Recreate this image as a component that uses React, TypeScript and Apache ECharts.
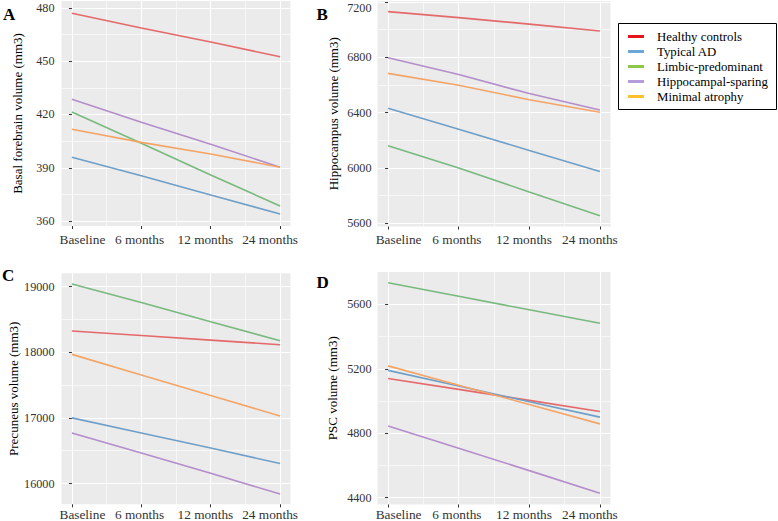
import React, { useEffect, useRef } from 'react';
import * as echarts from 'echarts';

const timepoints = ['Baseline', '6 months', '12 months', '24 months'];
const groups = ['Healthy controls', 'Typical AD', 'Limbic-predominant', 'Hippocampal-sparing', 'Minimal atrophy'];
const lineColors = ['#E5696B', '#6E9FC8', '#78B97E', '#B48DCB', '#F4A465'];
const legendColors = ['#E8141C', '#6AA6DA', '#8CC84B', '#B79CDB', '#FBC12C'];

// Panel A: Basal forebrain volume (mm3)
const basalHC = [477, 468.7, 460.8, 452.5];
const basalTAD = [395.9, 385.5, 374.6, 364];
const basalLP = [421.4, 403.8, 385.9, 368.5];
const basalHS = [428.6, 415.6, 403.2, 390.3];
const basalMA = [411.7, 404.3, 397.7, 390.3];

// Panel B: Hippocampus volume (mm3)
const hippoHC = [7130, 7087, 7040, 6990];
const hippoTAD = [6431, 6280, 6127, 5975];
const hippoLP = [6161, 6000, 5826, 5655];
const hippoHS = [6797, 6675, 6538, 6419];
const hippoMA = [6684, 6598, 6493, 6403];

// Panel C: Precuneus volume (mm3)
const precHC = [18325, 18255, 18185, 18115];
const precTAD = [17000, 16770, 16540, 16305];
const precLP = [19040, 18760, 18465, 18175];
const precHS = [16770, 16465, 16155, 15840];
const precMA = [17968, 17655, 17340, 17030];

// Panel D: PSC volume (mm3)
const pscHC = [5140, 5072, 5004, 4935];
const pscTAD = [5190, 5093, 4995, 4900];
const pscLP = [5734, 5650, 5566, 5482];
const pscHS = [4845, 4707, 4568, 4428];
const pscMA = [5218, 5098, 4978, 4858];

// Tick values
const xMajor = [0, 1, 2, 3];
const xMinor = [0.5, 1.5, 2.5];
const basalTicks = [360, 390, 420, 450, 480];
const basalMinor = [375, 405, 435, 465];
const hippoTicks = [5600, 6000, 6400, 6800, 7200];
const hippoMinor = [5800, 6200, 6600, 7000];
const precTicks = [16000, 17000, 18000, 19000];
const precMinor = [16500, 17500, 18500];
const pscTicks = [4400, 4800, 5200, 5600];
const pscMinor = [4600, 5000, 5400];

const FONT = '"Liberation Serif", "Times New Roman", serif';
const XFS = 13.3;
const YFS = 12.2;

const panels = [
  {
    letter: 'A', letterX: 3, letterY: 14,
    title: 'Basal forebrain volume (mm3)',
    grid: { left: 61.5, top: 1, width: 229, height: 225 },
    yMin: 357.2, yMax: 483.9, ticks: basalTicks, minor: basalMinor,
    nameGap: 38, yMargin: 7, xMargin: 6.5,
    series: [basalHC, basalTAD, basalLP, basalHS, basalMA],
  },
  {
    letter: 'B', letterX: 316.5, letterY: 14,
    title: 'Hippocampus volume (mm3)',
    grid: { left: 377.5, top: 1, width: 233, height: 225.5 },
    yMin: 5576.9, yMax: 7207, ticks: hippoTicks, minor: hippoMinor,
    nameGap: 38, yMargin: 6, xMargin: 6.5,
    series: [hippoHC, hippoTAD, hippoLP, hippoHS, hippoMA],
  },
  {
    letter: 'C', letterX: 2, letterY: 275,
    title: 'Precuneus volume (mm3)',
    grid: { left: 61.5, top: 273.3, width: 229, height: 231 },
    yMin: 15683, yMax: 19204, ticks: precTicks, minor: precMinor,
    nameGap: 41.5, yMargin: 7, xMargin: 3.5,
    series: [precHC, precTAD, precLP, precHS, precMA],
  },
  {
    letter: 'D', letterX: 316.5, letterY: 282.5,
    title: 'PSC volume (mm3)',
    grid: { left: 377.5, top: 272, width: 233, height: 232.5 },
    yMin: 4357.8, yMax: 5800.4, ticks: pscTicks, minor: pscMinor,
    nameGap: 39, yMargin: 6, xMargin: 3.5,
    series: [pscHC, pscTAD, pscLP, pscHS, pscMA],
  },
];

const xRich = {
  c0: { padding: [0, 0, 0, 21], fontSize: XFS, fontFamily: FONT, color: '#333333' },
  c1: { padding: [0, 3.6, 0, 0], fontSize: XFS, fontFamily: FONT, color: '#333333' },
  c2: { padding: [0, 10.6, 0, 0], fontSize: XFS, fontFamily: FONT, color: '#333333' },
  c3: { padding: [0, 20, 0, 0], fontSize: XFS, fontFamily: FONT, color: '#333333' },
};

function buildOption() {
  const grids: any[] = [];
  const xAxes: any[] = [];
  const yAxes: any[] = [];
  const series: any[] = [];
  const graphics: any[] = [];

  panels.forEach((p, g) => {
    grids.push({
      ...p.grid,
      show: true,
      backgroundColor: '#EBEBEB',
      borderWidth: 0,
      containLabel: false,
      outerBoundsMode: 'none',
    });
    // major x
    xAxes.push({
      type: 'value', gridIndex: g, min: -0.15, max: 3.15,
      axisLine: { show: false },
      axisTick: { show: true, customValues: xMajor, length: 3, lineStyle: { color: '#333333', width: 1 } },
      axisLabel: {
        customValues: xMajor,
        formatter: (v: number) => {
          const i = Math.round(v);
          return timepoints[i] != null ? `{c${i}|${timepoints[i]}}` : '';
        },
        rich: xRich,
        margin: p.xMargin, color: '#333333', fontSize: XFS, fontFamily: FONT,
      },
      splitLine: { show: true, lineStyle: { color: '#FFFFFF', width: 1.1 } },
    });
    // minor x
    xAxes.push({
      type: 'value', gridIndex: g, min: -0.15, max: 3.15,
      axisLine: { show: false },
      axisTick: { show: false, customValues: xMinor },
      axisLabel: { show: false, customValues: xMinor },
      splitLine: { show: true, lineStyle: { color: '#FFFFFF', width: 0.6 } },
    });
    // major y
    yAxes.push({
      type: 'value', gridIndex: g, min: p.yMin, max: p.yMax,
      name: p.title, nameLocation: 'middle', nameGap: p.nameGap,
      nameTextStyle: { fontSize: 13, color: '#000000', fontFamily: FONT },
      axisLine: { show: false },
      axisTick: { show: true, customValues: p.ticks, length: 3, lineStyle: { color: '#333333', width: 1 } },
      axisLabel: {
        customValues: p.ticks,
        formatter: (v: number) => (g === 1 && v === 7200 ? '{top|7200}' : String(v)),
        rich: { top: { padding: [12, 0, 0, 0], fontSize: YFS, fontFamily: FONT, color: '#333333' } },
        margin: p.yMargin, color: '#333333', fontSize: YFS, fontFamily: FONT,
      },
      splitLine: { show: true, lineStyle: { color: '#FFFFFF', width: 1.1 } },
    });
    // minor y
    yAxes.push({
      type: 'value', gridIndex: g, min: p.yMin, max: p.yMax,
      axisLine: { show: false },
      axisTick: { show: false, customValues: p.minor },
      axisLabel: { show: false, customValues: p.minor },
      splitLine: { show: true, lineStyle: { color: '#FFFFFF', width: 0.6 } },
    });

    p.series.forEach((vals, k) => {
      series.push({
        type: 'line',
        name: groups[k],
        xAxisIndex: 2 * g,
        yAxisIndex: 2 * g,
        data: vals.map((v, i) => [i, v]),
        showSymbol: false,
        symbol: 'none',
        lineStyle: { color: lineColors[k], width: 1.6 },
        itemStyle: { color: lineColors[k] },
        z: 3,
      });
    });

    graphics.push({
      type: 'text',
      x: p.letterX,
      y: p.letterY,
      style: {
        text: p.letter,
        font: `bold 17px ${FONT}`,
        fill: '#000000',
        verticalAlign: 'middle',
        align: 'left',
      },
    });
  });

  graphics.push({
    type: 'rect',
    shape: { x: 618.5, y: 23.5, width: 158, height: 86 },
    style: { fill: 'none', stroke: '#000000', lineWidth: 1 },
    z: 10,
  });

  return {
    animation: false,
    backgroundColor: '#FFFFFF',
    textStyle: { fontFamily: FONT },
    grid: grids,
    xAxis: xAxes,
    yAxis: yAxes,
    series,
    legend: {
      orient: 'vertical',
      left: 628,
      top: 29,
      itemGap: 0,
      itemWidth: 16,
      itemHeight: 3,
      icon: 'rect',
      selectedMode: false,
      padding: 0,
      formatter: '{t|{name}}',
      textStyle: {
        fontFamily: FONT, fontSize: 12.8, color: '#000000', lineHeight: 15,
        rich: { t: { fontFamily: FONT, fontSize: 12.8, color: '#000000', lineHeight: 15, padding: [0, 0, 0, 8] } },
      },
      data: groups.map((n, k) => ({
        name: n,
        icon: 'rect',
        itemStyle: { color: legendColors[k] },
        lineStyle: { color: legendColors[k] },
      })),
    },
    graphic: graphics,
  };
}

export default function App() {
  const ref = useRef<HTMLDivElement>(null);
  useEffect(() => {
    if (!ref.current) return;
    const chart = echarts.init(ref.current, undefined, { renderer: 'svg' });
    chart.setOption(buildOption() as any);
    return () => chart.dispose();
  }, []);
  return (
    <div
      ref={ref}
      style={{ position: 'fixed', left: 0, top: 0, width: 778, height: 521, background: '#FFFFFF' }}
    />
  );
}
